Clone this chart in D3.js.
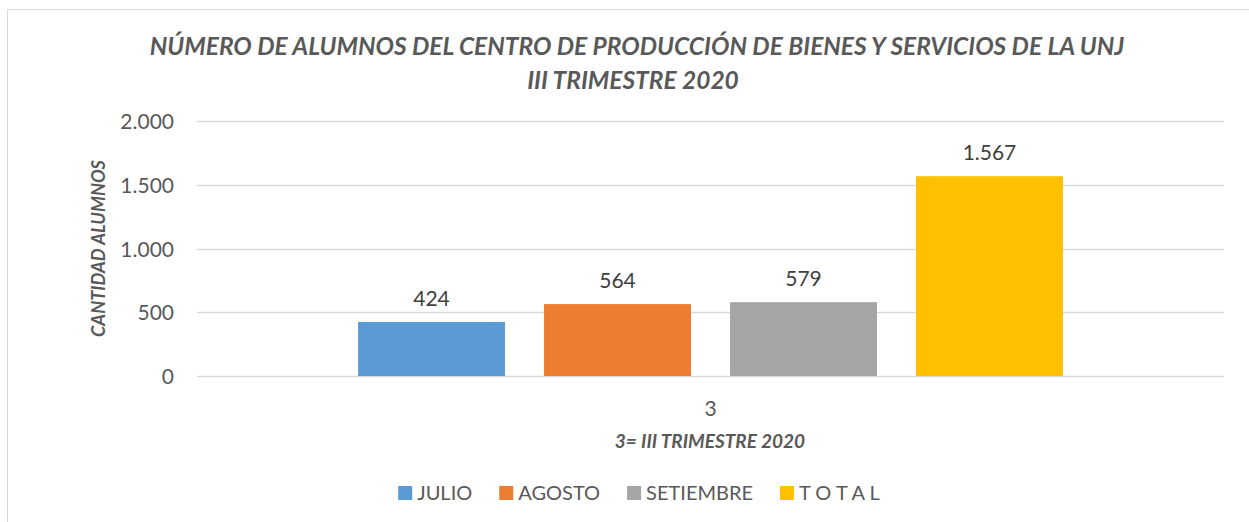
<!DOCTYPE html>
<html>
<head>
<meta charset="utf-8">
<script src="https://cdn.jsdelivr.net/npm/d3@7"></script>
<style>
  html, body { margin: 0; padding: 0; background: #fff; }
  svg { display: block; }
  text { font-family: Lato, "Open Sans", sans-serif; }
</style>
</head>
<body>
<svg id="chart" width="1249" height="522"></svg>
<script>
// ---- data ----
const categories = ["3"];
const seriesNames = ["JULIO", "AGOSTO", "SETIEMBRE", "T O T A L"];
const seriesValues = [424, 564, 579, 1567];
const seriesColors = ["#5B9BD5", "#ED7D31", "#A5A5A5", "#FFC000"];
const yTicks = [0, 500, 1000, 1500, 2000];
const titleLines = ["NÚMERO DE ALUMNOS DEL CENTRO DE PRODUCCIÓN DE BIENES Y SERVICIOS DE LA UNJ", "III TRIMESTRE 2020"];
const yAxisTitle = "CANTIDAD ALUMNOS";
const xAxisTitle = "3= III TRIMESTRE 2020";

const svg = d3.select("#chart");
const locale = d3.formatLocale({ decimal: ",", thousands: ".", grouping: [3], currency: ["", ""] });
const fmt = locale.format(",d");

const textColor = "#595959";

// chart border
svg.append("rect")
  .attr("x", 7.5).attr("y", 9.5).attr("width", 1300).attr("height", 600)
  .attr("fill", "#fff").attr("stroke", "#D9D9D9").attr("stroke-width", 1);

// scales
const plotLeft = 197, plotRight = 1224, plotTop = 121, plotBottom = 376;
const y = d3.scaleLinear().domain([0, 2000]).range([plotBottom, plotTop]);
const x0 = d3.scaleBand().domain(categories).range([plotLeft, plotRight]).paddingInner(0).paddingOuter(0.2285);
const x1 = d3.scaleBand().domain(seriesNames).range([0, x0.bandwidth()]).paddingInner(0.21).paddingOuter(0);

// gridlines
svg.append("g").selectAll("line").data(yTicks).join("line")
  .attr("x1", plotLeft).attr("x2", plotRight)
  .attr("y1", d => Math.round(y(d)) + 0.5).attr("y2", d => Math.round(y(d)) + 0.5)
  .attr("stroke", "#D9D9D9").attr("stroke-width", 1.3);

// y axis labels
const yAxis = d3.axisLeft(y).tickValues(yTicks).tickFormat(fmt).tickSize(0).tickPadding(0);
const gy = svg.append("g").attr("transform", `translate(174,0)`).call(yAxis);
gy.select(".domain").remove();
gy.selectAll("text").attr("fill", textColor).style("font-size", "21px").style("font-family", "Lato, sans-serif").attr("dy", "0.36em");

// bars
const groups = svg.append("g").selectAll("g").data(categories).join("g")
  .attr("transform", d => `translate(${x0(d)},0)`);
const barData = seriesNames.map((s, i) => ({ s, v: seriesValues[i], c: seriesColors[i] }));
groups.selectAll("rect").data(barData).join("rect")
  .attr("x", d => x1(d.s)).attr("width", x1.bandwidth())
  .attr("y", d => y(d.v)).attr("height", d => y(0) - y(d.v))
  .attr("fill", d => d.c);
groups.selectAll("text").data(barData).join("text")
  .attr("x", d => x1(d.s) + x1.bandwidth() / 2)
  .attr("y", d => y(d.v) - 16)
  .attr("text-anchor", "middle")
  .attr("fill", "#404040").style("font-size", "21px")
  .text(d => fmt(d.v));

// x axis label
const xAxis = d3.axisBottom(x0).tickSize(0).tickPadding(0);
const gx = svg.append("g").attr("transform", `translate(0,${plotBottom})`).call(xAxis);
gx.select(".domain").remove();
gx.selectAll("text").attr("fill", textColor).style("font-size", "21px").style("font-family", "Lato, sans-serif")
  .attr("y", 40).attr("dy", 0);

// title
svg.append("g").selectAll("text").data(titleLines).join("text")
  .attr("x", (d, i) => i === 0 ? 637 : 633)
  .attr("y", (d, i) => i === 0 ? 55 : 89)
  .attr("text-anchor", "middle")
  .attr("fill", textColor)
  .style("font-size", "24.5px").style("font-weight", "bold").style("font-style", "italic")
  .text(d => d);

// y axis title
svg.append("text")
  .attr("transform", `translate(105,248.5) rotate(-90)`)
  .attr("text-anchor", "middle")
  .attr("fill", textColor)
  .style("font-size", "18.2px").style("font-weight", "bold").style("font-style", "italic")
  .text(yAxisTitle);

// x axis title
svg.append("text")
  .attr("x", 710).attr("y", 448)
  .attr("text-anchor", "middle")
  .attr("fill", textColor)
  .style("font-size", "19px").style("font-weight", "bold").style("font-style", "italic")
  .text(xAxisTitle);

// legend
const legend = svg.append("g");
let lx = 0;
seriesNames.forEach((s, i) => {
  const g = legend.append("g").attr("transform", `translate(${lx},0)`);
  g.append("rect").attr("x", 0).attr("y", -7).attr("width", 14).attr("height", 14).attr("fill", seriesColors[i]);
  const t = g.append("text").attr("x", 19).attr("y", 0).attr("dy", "0.36em")
    .attr("fill", textColor).style("font-size", "20px").text(s);
  const w = t.node().getComputedTextLength();
  lx += 19 + w + 27;
});
const totalW = lx - 27;
legend.attr("transform", `translate(${639 - totalW / 2},493)`);
</script>
</body>
</html>
